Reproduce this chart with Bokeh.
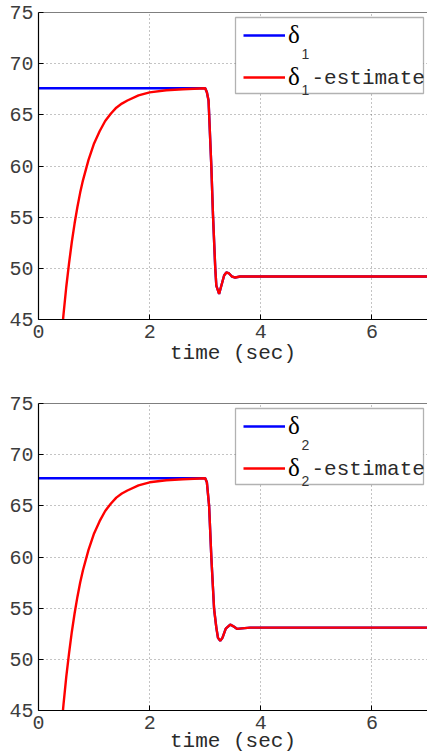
from bokeh.plotting import figure
from bokeh.models import Range1d, Legend, LegendItem, Label, FixedTicker, Span, BoxAnnotation
from bokeh.layouts import column
from bokeh.embed import file_html
from bokeh.resources import INLINE

# ---------------- data ----------------
x_ticks = [0, 2, 4, 6]
y_ticks = [45, 50, 55, 60, 65, 70, 75]

# plot 1 : delta_1
time_true_1 = [0.0, 3.00, 3.03, 3.06, 3.11, 3.14, 3.18, 3.20, 3.25, 3.29, 3.34, 3.38,
               3.43, 3.48, 3.54, 3.63, 3.81, 7.0]
delta_true_1 = [67.6, 67.6, 67.2, 66.4, 60.0, 55.2, 50.1, 48.3, 47.5, 48.3, 49.3, 49.6,
                49.5, 49.2, 49.1, 49.2, 49.2, 49.2]
time_est_1 = [0.40, 0.45, 0.50, 0.55, 0.60, 0.65, 0.70, 0.75, 0.80, 0.90, 1.00, 1.10,
              1.20, 1.30, 1.40, 1.50, 1.60, 1.80, 2.00, 2.30, 2.60, 3.00,
              3.03, 3.06, 3.11, 3.14, 3.18, 3.20, 3.25, 3.29, 3.34, 3.38,
              3.43, 3.48, 3.54, 3.63, 3.81, 7.0]
delta_est_1 = [42.5, 45.5, 48.2, 50.5, 52.6, 54.4, 56.0, 57.4, 58.6, 60.6, 62.2, 63.4,
               64.4, 65.1, 65.7, 66.1, 66.4, 66.9, 67.2, 67.4, 67.5, 67.6,
               67.2, 66.4, 60.0, 55.2, 50.1, 48.3, 47.5, 48.3, 49.3, 49.6,
               49.5, 49.2, 49.1, 49.2, 49.2, 49.2]

# plot 2 : delta_2
time_true_2 = [0.0, 3.00, 3.03, 3.07, 3.11, 3.16, 3.20, 3.23, 3.27, 3.31, 3.37, 3.45,
               3.50, 3.57, 3.66, 3.81, 7.0]
delta_true_2 = [67.7, 67.7, 67.3, 65.0, 60.0, 54.9, 53.1, 52.1, 51.8, 52.1, 53.0, 53.4,
                53.25, 52.98, 53.03, 53.1, 53.1]
time_est_2 = [0.40, 0.45, 0.50, 0.55, 0.60, 0.65, 0.70, 0.75, 0.80, 0.90, 1.00, 1.10,
              1.20, 1.30, 1.40, 1.50, 1.60, 1.80, 2.00, 2.30, 2.60, 3.00,
              3.03, 3.07, 3.11, 3.16, 3.20, 3.23, 3.27, 3.31, 3.37, 3.45,
              3.50, 3.57, 3.66, 3.81, 7.0]
delta_est_2 = [42.6, 45.6, 48.3, 50.6, 52.7, 54.5, 56.1, 57.5, 58.7, 60.7, 62.3, 63.5,
               64.5, 65.2, 65.8, 66.2, 66.5, 67.0, 67.3, 67.5, 67.6, 67.7,
               67.3, 65.0, 60.0, 54.9, 53.1, 52.1, 51.8, 52.1, 53.0, 53.4,
               53.25, 52.98, 53.03, 53.1, 53.1]

legend_symbol = "δ"
legend_suffix = "-estimate"

X_END = 7.0
FIG_W = 427
LEFT = 38
FRAME_W = FIG_W - LEFT

MONO = "Liberation Mono"
SERIF = "Liberation Serif"
SANS = "Liberation Sans"


def make_plot(t_true, d_true, t_est, d_est, sub, height, top, bottom, label_off):
    fh = height - top - bottom
    p = figure(width=FIG_W, height=height, x_range=Range1d(0, X_END),
               y_range=Range1d(45, 75), output_backend="svg", toolbar_location=None,
               min_border_left=LEFT, min_border_right=0, min_border_top=top,
               min_border_bottom=bottom, x_axis_label="time (sec)")
    p.outline_line_color = None
    p.background_fill_color = "white"
    p.border_fill_color = "white"

    p.xaxis.ticker = FixedTicker(ticks=x_ticks)
    p.yaxis.ticker = FixedTicker(ticks=y_ticks)
    for ax in (p.xaxis[0], p.yaxis[0]):
        ax.axis_line_color = "black"
        ax.axis_line_width = 1.2
        ax.major_tick_in = 5
        ax.major_tick_out = 0
        ax.minor_tick_line_color = None
        ax.major_tick_line_color = "black"
        ax.major_label_text_font = MONO
        ax.major_label_text_font_size = "20px"
        ax.major_label_text_color = "#3c3c3c"
    p.xaxis.major_label_standoff = 5
    p.yaxis.major_label_standoff = 5
    p.xaxis.axis_label_text_font = MONO
    p.xaxis.axis_label_text_font_size = "21px"
    p.xaxis.axis_label_text_font_style = "normal"
    p.xaxis.axis_label_text_color = "#2a2a2a"
    p.xaxis.axis_label_standoff = label_off

    # top frame edge
    p.add_layout(Span(location=75, dimension="width", line_color="black", line_width=1.2))

    for g in (p.xgrid[0], p.ygrid[0]):
        g.grid_line_color = "#555555"
        g.grid_line_dash = "1 3"
        g.grid_line_alpha = 0.7
        g.grid_line_width = 1
    p.xgrid.ticker = FixedTicker(ticks=x_ticks)
    p.ygrid.ticker = FixedTicker(ticks=y_ticks)

    blue = p.line(t_true, d_true, line_color="#0000ff", line_width=2.4)
    red = p.line(t_est, d_est, line_color="#ff0000", line_width=2.4)

    def dx(px):
        return px / FRAME_W * X_END

    def dy(py):
        return 75 - py / fh * 30

    # legend box (white background, behind the legend entries and texts)
    p.add_layout(BoxAnnotation(left=dx(197), right=dx(385), top=dy(5), bottom=dy(81),
                               fill_color="white", fill_alpha=1.0,
                               line_color="black", line_width=1.3))

    legend = Legend(items=[LegendItem(label=legend_symbol, renderers=[blue]),
                           LegendItem(label=legend_symbol, renderers=[red])],
                    location=(205, fh - 7 - 72), margin=0, padding=7, spacing=14,
                    glyph_width=42, glyph_height=22, label_height=22, label_width=121,
                    label_standoff=3, label_text_font=SERIF,
                    label_text_font_size="25px", label_text_color="black",
                    border_line_color=None, background_fill_alpha=0.0)
    p.add_layout(legend, "center")

    for base in (41, 77):
        p.add_layout(Label(x=dx(263), y=dy(base), text=sub, text_font=SANS,
                           text_font_size="14px", text_baseline="alphabetic",
                           text_color="#333333"))
    p.add_layout(Label(x=dx(273), y=dy(66), text=legend_suffix, text_font=MONO,
                       text_font_size="21px", text_baseline="alphabetic",
                       text_color="#2a2a2a"))
    return p


p1 = make_plot(time_true_1, delta_true_1, time_est_1, delta_est_1, "1", 391, 12, 72, 1)
p2 = make_plot(time_true_2, delta_true_2, time_est_2, delta_est_2, "2", 364, 12, 45, -2)

layout = column(p1, p2, spacing=0)
open("out.html", "w").write(file_html(layout, INLINE))
